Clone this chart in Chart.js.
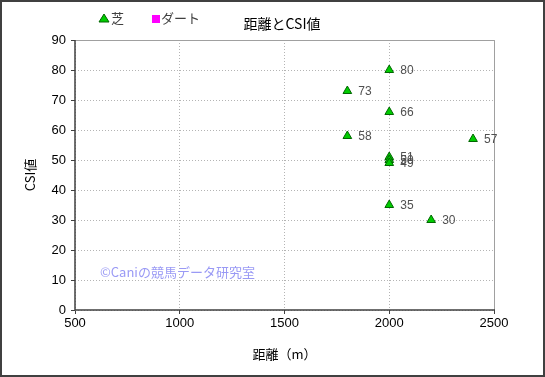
<!DOCTYPE html>
<html><head><meta charset="utf-8">
<script src="https://cdn.jsdelivr.net/npm/chart.js@4"></script>
<style>html,body{margin:0;padding:0;background:#fff}#w{width:545px;height:377px}</style>
</head><body><div id="w"><canvas id="c" width="545" height="377"></canvas></div>
<script>
const distances = [2000, 1800, 2000, 1800, 2400, 2000, 2000, 2000, 2000, 2200];
const csiValues = [80, 73, 66, 58, 57, 51, 50, 49, 35, 30];
const dirtDistances = [];
const dirtValues = [];
const seriesNames = ['芝', 'ダート'];
const chartTitle = '距離とCSI値';
const xTitle = '距離（m）';
const yTitle = 'CSI値';
const watermark = '©Caniの競馬データ研究室';

const JP = '"Noto Sans CJK JP", "Liberation Sans", sans-serif';
const NUM = '"Liberation Sans", "Noto Sans CJK JP", sans-serif';

const turf = distances.map((d, i) => ({x: d, y: csiValues[i]}));
const dirt = dirtDistances.map((d, i) => ({x: d, y: dirtValues[i]}));

const extras = {
  id: 'extras',
  beforeDraw(chart) {
    const ctx = chart.ctx;
    ctx.save();
    ctx.fillStyle = '#fff';
    ctx.fillRect(0, 0, chart.width, chart.height);
    ctx.restore();
  },
  afterDatasetsDraw(chart) {
    const ctx = chart.ctx, a = chart.chartArea;
    ctx.save();
    ctx.lineWidth = 1;
    ctx.strokeStyle = '#a0a0a0';
    ctx.beginPath();
    ctx.moveTo(a.left, a.top + 0.5); ctx.lineTo(a.right + 0.5, a.top + 0.5); ctx.lineTo(a.right + 0.5, a.bottom);
    ctx.stroke();
    ctx.strokeStyle = '#404040';
    ctx.lineWidth = 1.5;
    ctx.beginPath();
    ctx.moveTo(a.left, a.top); ctx.lineTo(a.left, a.bottom); ctx.lineTo(a.right + 1, a.bottom);
    ctx.stroke();
    ctx.font = '12px ' + NUM;
    ctx.fillStyle = '#505050';
    ctx.textBaseline = 'middle';
    ctx.textAlign = 'left';
    const meta = chart.getDatasetMeta(0);
    meta.data.forEach((el, i) => {
      ctx.fillText(String(csiValues[i]), el.x + 11, el.y + 1);
    });
    ctx.font = '13px ' + JP;
    ctx.fillStyle = '#9a9af5';
    ctx.fillText(watermark, 100, 272);
    ctx.font = '14px ' + JP;
    ctx.fillStyle = '#000';
    ctx.textAlign = 'center';
    ctx.fillText(chartTitle, 282, 24);
    const ds = chart.data.datasets;
    ctx.textAlign = 'left';
    ctx.font = '13px ' + JP;
    ctx.fillStyle = ds[0].backgroundColor;
    ctx.strokeStyle = ds[0].borderColor;
    ctx.lineWidth = 1;
    ctx.beginPath();
    ctx.moveTo(104, 14); ctx.lineTo(109, 22); ctx.lineTo(99, 22); ctx.closePath();
    ctx.fill(); ctx.stroke();
    ctx.fillStyle = '#404040';
    ctx.fillText(ds[0].label, 111, 18);
    ctx.fillStyle = ds[1].backgroundColor;
    ctx.fillRect(152, 15, 8, 8);
    ctx.fillStyle = '#404040';
    ctx.fillText(ds[1].label, 161, 18);
    ctx.strokeStyle = '#404040';
    ctx.lineWidth = 2;
    ctx.strokeRect(1, 1, chart.width - 2, chart.height - 2);
    ctx.restore();
  }
};

new Chart(document.getElementById('c'), {
  type: 'scatter',
  data: {
    datasets: [
      {label: seriesNames[0], data: turf, pointStyle: 'triangle', pointRadius: 5, pointHoverRadius: 5,
       backgroundColor: '#00cc00', borderColor: '#006600', borderWidth: 1},
      {label: seriesNames[1], data: dirt, pointStyle: 'rect', pointRadius: 5,
       backgroundColor: '#ff00ff', borderColor: '#ff00ff', borderWidth: 1}
    ]
  },
  options: {
    responsive: false,
    animation: false,
    layout: {padding: {left: 0, right: 51, top: 40, bottom: 0}},
    plugins: {legend: {display: false}, title: {display: false}, tooltip: {enabled: false}},
    scales: {
      x: {
        type: 'linear', min: 500, max: 2500,
        ticks: {stepSize: 500, color: '#000', font: {family: NUM, size: 13}, padding: 2,
                callback: v => String(v)},
        grid: {color: '#b4b4b4', drawTicks: true, tickLength: 4, tickColor: '#404040'},
        border: {display: false, dash: [1, 2]},
        title: {display: true, text: xTitle, color: '#000', font: {family: JP, size: 13}, padding: {top: 0, bottom: 15}},
        afterFit(s) { s.height = 67; }
      },
      y: {
        min: 0, max: 90,
        ticks: {stepSize: 10, color: '#000', font: {family: NUM, size: 13}, padding: 5},
        grid: {color: '#b4b4b4', drawTicks: true, tickLength: 4, tickColor: '#404040'},
        border: {display: false, dash: [1, 2]},
        title: {display: true, text: yTitle, color: '#000', font: {family: JP, size: 13}, padding: {top: 22, bottom: 0}},
        afterFit(s) { s.width = 75; }
      }
    }
  },
  plugins: [extras]
});
</script>
</body></html>
